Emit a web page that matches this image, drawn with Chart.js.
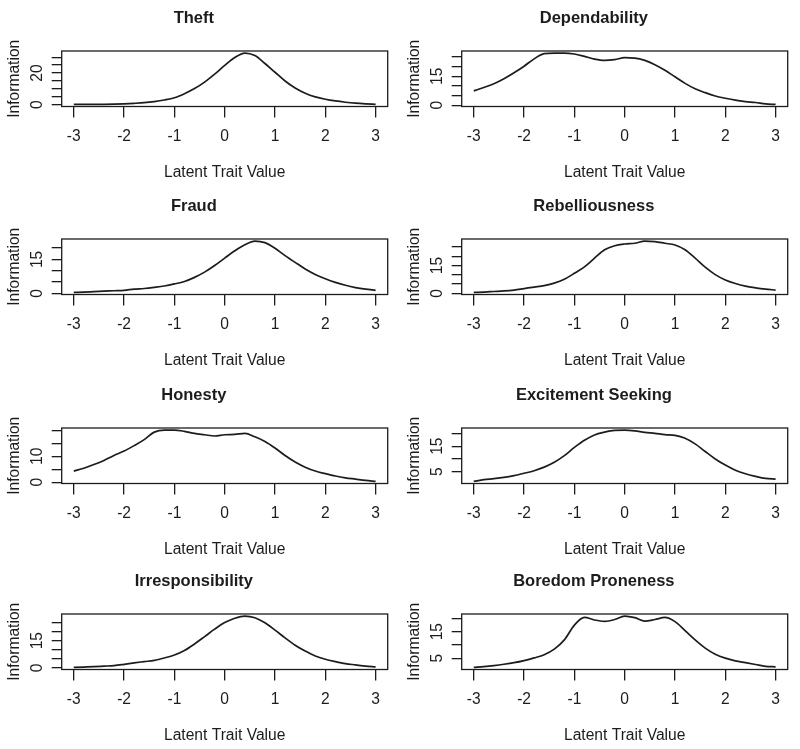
<!DOCTYPE html>
<html>
<head>
<meta charset="utf-8">
<script src="https://cdn.jsdelivr.net/npm/chart.js@4.4.1/dist/chart.umd.min.js"></script>
<style>
  html, body { margin: 0; padding: 0; background: #fff; overflow: hidden; }
  #items { position: relative; width: 800px; height: 749px; }
  #items canvas { position: absolute; }
</style>
</head>
<body>
<div id="items"></div>
<script>
'use strict';

// latent trait grid
const theta = [-3, -2.8, -2.6, -2.4, -2.2, -2, -1.8, -1.6, -1.4, -1.2, -1, -0.8, -0.6, -0.4, -0.2,
  0, 0.2, 0.4, 0.6, 0.8, 1, 1.2, 1.4, 1.6, 1.8, 2, 2.2, 2.4, 2.6, 2.8, 3];
const xTicks = [-3, -2, -1, 0, 1, 2, 3];

// information values
const theft = [0.2, 0.2, 0.3, 0.3, 0.4, 0.6, 0.9, 1.3, 2.0, 3.0, 4.4, 7.0, 10.2, 14.3, 19.3,
  24.8, 29.8, 32.6, 31.0, 26.0, 20.5, 15.0, 10.6, 7.3, 5.0, 3.5, 2.4, 1.6, 1.0, 0.6, 0.3];
const dependability = [7.4, 9.2, 11.1, 13.7, 16.8, 20.2, 24.0, 26.7, 27.0, 27.0, 26.5, 25.3, 23.9, 23.2, 23.6,
  24.6, 24.4, 23.2, 21.0, 18.1, 14.7, 11.3, 8.5, 6.5, 4.8, 3.6, 2.6, 1.9, 1.4, 0.7, 0.4];
const fraud = [0.45, 0.6, 0.8, 1.0, 1.2, 1.4, 1.9, 2.2, 2.7, 3.3, 4.2, 5.3, 7.1, 9.4, 12.3,
  15.6, 18.8, 21.5, 23.1, 22.4, 19.9, 16.7, 13.7, 10.8, 8.4, 6.5, 4.9, 3.6, 2.6, 1.9, 1.4];
const rebelliousness = [0.5, 0.7, 1.0, 1.3, 1.8, 2.6, 3.4, 4.2, 5.5, 7.6, 10.8, 14.3, 19.0, 23.5, 25.7,
  26.6, 27.0, 28.2, 27.9, 27.0, 26.1, 23.5, 19.0, 14.1, 10.1, 7.2, 5.3, 3.9, 3.0, 2.3, 1.8];
const honesty = [4.3, 5.4, 6.8, 8.4, 10.3, 12.0, 14.1, 16.4, 19.3, 20.1, 20.1, 19.6, 18.8, 18.3, 17.8,
  18.3, 18.4, 18.8, 17.5, 15.7, 13.2, 10.3, 7.8, 5.8, 4.3, 3.3, 2.4, 1.7, 1.2, 0.7, 0.3];
const excitement = [1.2, 1.9, 2.3, 2.8, 3.5, 4.4, 5.4, 6.8, 8.7, 11.3, 14.5, 17.3, 19.4, 20.5, 21.2,
  21.3, 21.0, 20.4, 20.0, 19.5, 19.2, 18.1, 15.9, 12.9, 10.0, 7.6, 5.6, 4.2, 3.2, 2.4, 2.1];
const irresponsibility = [0.3, 0.5, 0.7, 1.0, 1.3, 2.0, 2.8, 3.5, 4.2, 5.5, 7.1, 9.6, 13.2, 17.2, 21.3,
  24.9, 27.3, 28.5, 27.6, 24.8, 20.8, 16.5, 12.5, 9.3, 6.6, 4.8, 3.5, 2.4, 1.7, 1.0, 0.6];
const boredom = [1.5, 1.8, 2.2, 2.7, 3.3, 4.1, 5.1, 6.3, 8.4, 11.9, 17.5, 20.4, 19.4, 18.9, 19.6,
  20.9, 20.3, 19.0, 19.6, 20.4, 18.8, 15.4, 11.9, 8.8, 6.5, 5.0, 4.0, 3.3, 2.6, 1.9, 1.75];

const titles = ['Theft', 'Dependability', 'Fraud', 'Rebelliousness',
  'Honesty', 'Excitement Seeking', 'Irresponsibility', 'Boredom Proneness'];
const series = [theft, dependability, fraud, rebelliousness, honesty, excitement, irresponsibility, boredom];
// y tick labels that are printed (the other ticks stay blank)
const yLabels = [[0, 20], [0, 15], [0, 15], [0, 15], [0, 10], [5, 15], [0, 15], [5, 15]];

const ink = '#1c1c1c';
const rowTops = [0, 188, 377, 563];
const colLefts = [0, 400];

Chart.defaults.font.family = '"Liberation Sans", Arial, Helvetica, sans-serif';

const frame = {
    id: 'frame',
    afterDatasetsDraw(chart) {
        const { ctx, chartArea: a } = chart;
        ctx.save();
        ctx.strokeStyle = ink;
        ctx.lineWidth = 1.3;
        ctx.strokeRect(a.left, a.top, a.right - a.left, a.bottom - a.top);
        ctx.restore();
    }
};

const items = document.getElementById('items');

const crearChart = (i) => {
    const values = series[i];
    const canvas = document.createElement('canvas');
    canvas.width = 400;
    canvas.height = 187;
    canvas.style.left = colLefts[i % 2] + 'px';
    canvas.style.top = rowTops[Math.floor(i / 2)] + 'px';
    items.appendChild(canvas);

    // R style axis range: data range plus 4% on each side
    const lo = Math.min(...values);
    const hi = Math.max(...values);
    const yMin = lo - (hi - lo) * 0.04;
    const yMax = hi + (hi - lo) * 0.04;
    const yTicks = [];
    for (let v = Math.ceil(yMin / 5) * 5; v <= yMax; v += 5) yTicks.push(v);

    new Chart(canvas, {
        type: 'line',
        data: {
            datasets: [{
                data: theta.map((x, k) => ({ x: x, y: values[k] })),
                borderColor: ink,
                borderWidth: 1.7,
                pointRadius: 0,
                fill: false,
                cubicInterpolationMode: 'monotone'
            }]
        },
        options: {
            responsive: false,
            animation: false,
            devicePixelRatio: 1,
            layout: { padding: { left: 0, right: 12.3, top: 0, bottom: 0 } },
            plugins: {
                legend: { display: false },
                tooltip: { enabled: false },
                title: {
                    display: true,
                    text: titles[i],
                    color: ink,
                    font: { size: 16.5, weight: 'bold' },
                    padding: { top: 8.1, bottom: 23.1 }
                }
            },
            scales: {
                x: {
                    type: 'linear',
                    min: -3.24,
                    max: 3.24,
                    afterBuildTicks: s => { s.ticks = xTicks.map(v => ({ value: v })); },
                    afterFit: s => { s.height = 80.5; },
                    border: { display: false },
                    grid: { drawOnChartArea: false, drawTicks: true, tickLength: 11, color: ink, lineWidth: 1.3 },
                    ticks: { color: ink, font: { size: 15.6 }, padding: 10, autoSkip: false, maxRotation: 0,
                        callback: v => String(v) },
                    title: { display: true, text: 'Latent Trait Value', color: ink, font: { size: 15.6 },
                        padding: { top: 0, bottom: 5.1 } }
                },
                y: {
                    min: yMin,
                    max: yMax,
                    afterBuildTicks: s => { s.ticks = yTicks.map(v => ({ value: v })); },
                    afterFit: s => { s.width = 61.7; },
                    border: { display: false },
                    grid: { drawOnChartArea: false, drawTicks: true, tickLength: 10, color: ink, lineWidth: 1.3 },
                    ticks: { color: ink, font: { size: 15.6 }, padding: 5, autoSkip: false,
                        minRotation: 90, maxRotation: 90, crossAlign: 'center',
                        callback: v => yLabels[i].includes(v) ? String(v) : '' },
                    title: { display: true, text: 'Information', color: ink, font: { size: 15.6 },
                        padding: { top: 5.6, bottom: 0 } }
                }
            }
        },
        plugins: [frame]
    });
};

titles.forEach((t, i) => crearChart(i));
</script>
</body>
</html>
